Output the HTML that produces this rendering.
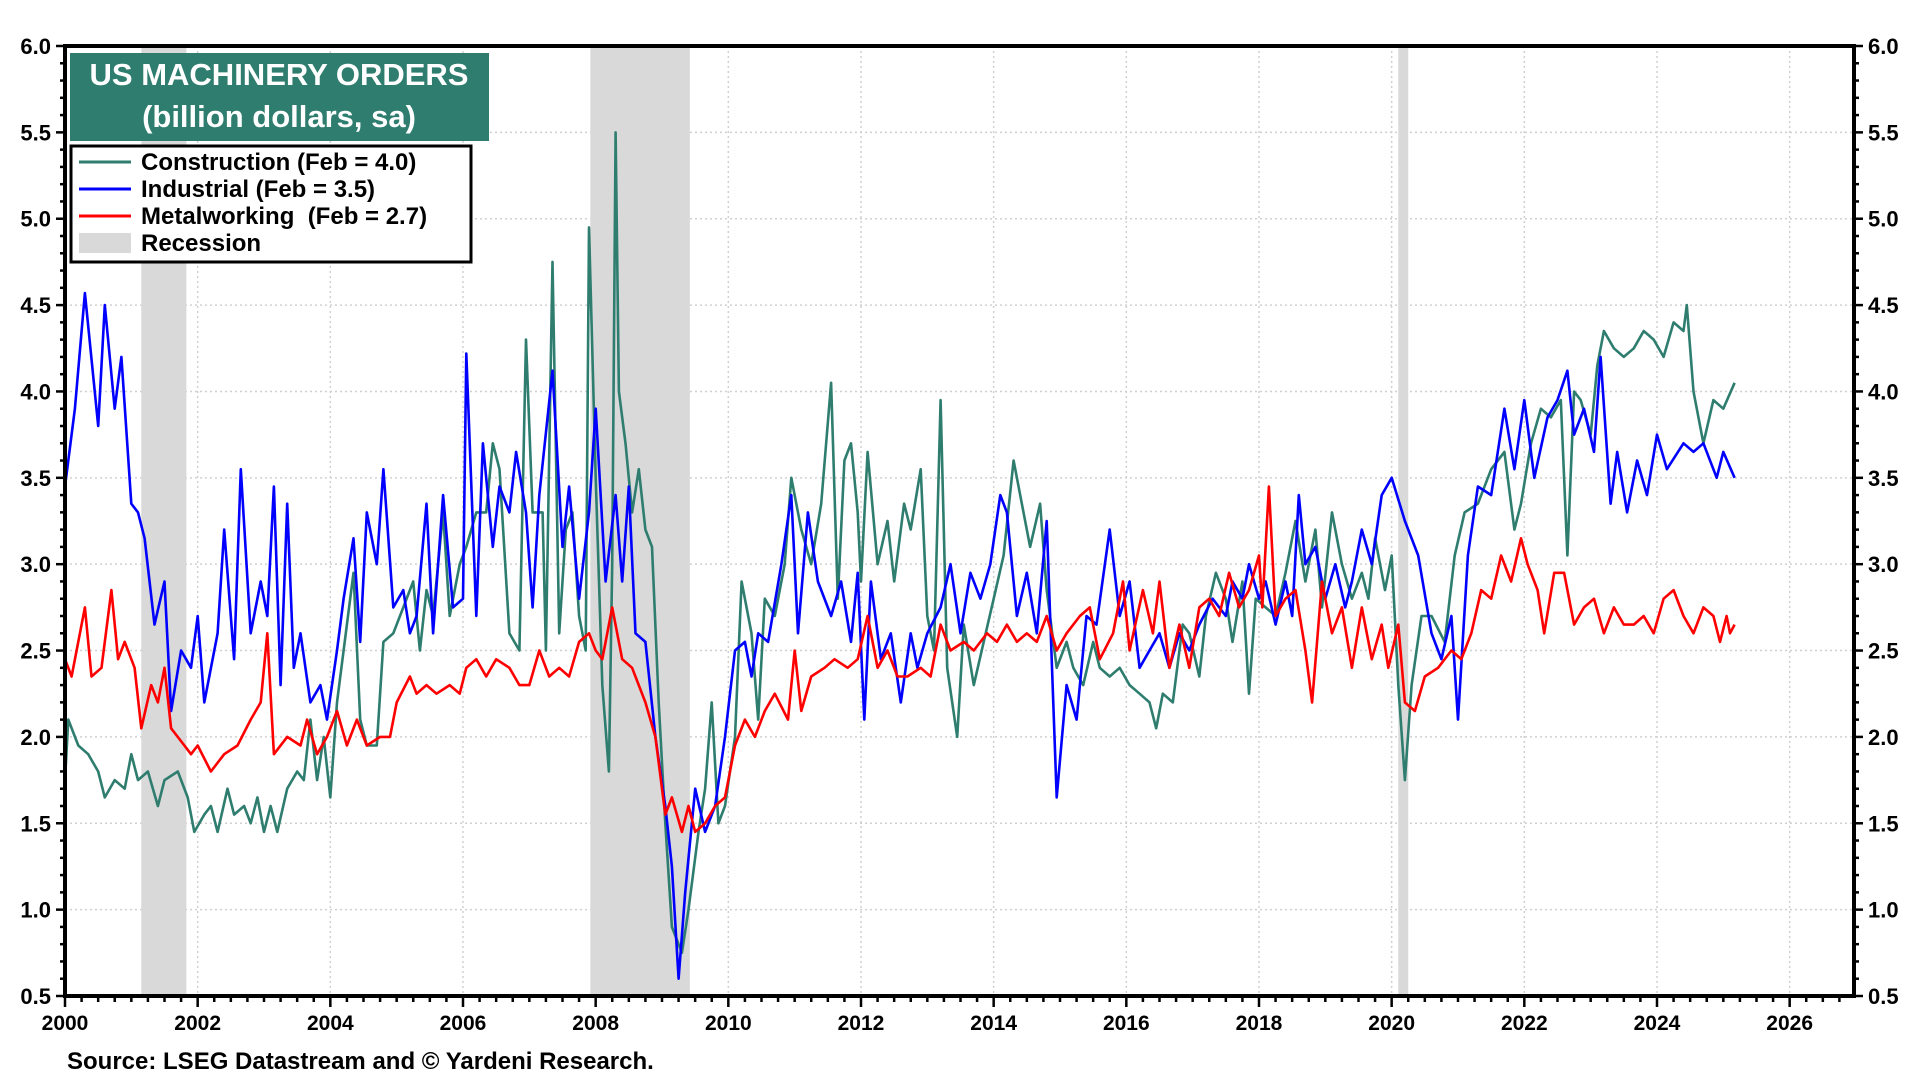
<!DOCTYPE html>
<html><head><meta charset="utf-8"><style>
html,body{margin:0;padding:0;background:#fff;}
svg{display:block;font-family:"Liberation Sans",Arial,sans-serif;}
</style></head><body>
<svg id="chart" width="1920" height="1081" viewBox="0 0 1920 1081" xmlns="http://www.w3.org/2000/svg">
<g id="grid"></g>
<g id="rec"></g>
<g id="series"></g>
<g id="axes"></g>
<g>
<rect x="70" y="53" width="419" height="88" fill="#2e7d6f"/>
<text x="279" y="85" text-anchor="middle" fill="#fff" font-size="31" font-weight="bold">US MACHINERY ORDERS</text>
<text x="279" y="127" text-anchor="middle" fill="#fff" font-size="31" font-weight="bold">(billion dollars, sa)</text>
</g>
<g>
<rect x="71" y="146" width="400" height="116" fill="#fff" stroke="#000" stroke-width="3"/>
<g><line x1="79" y1="162" x2="131" y2="162" stroke="#2e7d6f" stroke-width="3"/><text x="141" y="170" font-size="24" font-weight="bold">Construction (Feb = 4.0)</text></g>
<g><line x1="79" y1="189" x2="131" y2="189" stroke="#0000ff" stroke-width="3"/><text x="141" y="197" font-size="24" font-weight="bold">Industrial (Feb = 3.5)</text></g>
<g><line x1="79" y1="216" x2="131" y2="216" stroke="#ff0000" stroke-width="3"/><text x="141" y="224" font-size="24" font-weight="bold" xml:space="preserve">Metalworking  (Feb = 2.7)</text></g>
<g><rect x="79" y="233" width="52" height="20" fill="#d9d9d9"/><text x="141" y="251" font-size="24" font-weight="bold">Recession</text></g>
</g>
<text x="67" y="1069" font-size="24" font-weight="bold">Source: LSEG Datastream and © Yardeni Research.</text>
</svg>
<script>
const yTicks = ["0.5","1.0","1.5","2.0","2.5","3.0","3.5","4.0","4.5","5.0","5.5","6.0"];
const xTicks = ["2000","2002","2004","2006","2008","2010","2012","2014","2016","2018","2020","2022","2024","2026"];
const recessionStart = [2001.15, 2007.92, 2020.1];
const recessionEnd = [2001.83, 2009.42, 2020.25];
const indDates = [2000.0,2000.15,2000.3,2000.5,2000.6,2000.75,2000.85,2001.0,2001.1,2001.2,2001.35,2001.5,2001.6,2001.75,2001.9,2002.0,2002.1,2002.3,2002.4,2002.55,2002.65,2002.8,2002.95,2003.05,2003.15,2003.25,2003.35,2003.45,2003.55,2003.7,2003.85,2003.95,2004.1,2004.2,2004.35,2004.45,2004.55,2004.7,2004.8,2004.95,2005.1,2005.2,2005.3,2005.45,2005.55,2005.7,2005.85,2006.0,2006.05,2006.2,2006.3,2006.45,2006.55,2006.7,2006.8,2006.95,2007.05,2007.15,2007.35,2007.5,2007.6,2007.75,2007.9,2008.0,2008.15,2008.3,2008.4,2008.5,2008.6,2008.75,2008.9,2009.05,2009.15,2009.25,2009.35,2009.5,2009.65,2009.8,2009.95,2010.1,2010.25,2010.35,2010.45,2010.6,2010.8,2010.95,2011.05,2011.2,2011.35,2011.55,2011.7,2011.85,2011.95,2012.05,2012.15,2012.3,2012.45,2012.6,2012.75,2012.85,2013.0,2013.2,2013.35,2013.5,2013.65,2013.8,2013.95,2014.1,2014.2,2014.35,2014.5,2014.65,2014.8,2014.95,2015.1,2015.25,2015.4,2015.55,2015.75,2015.9,2016.05,2016.2,2016.35,2016.5,2016.65,2016.8,2016.95,2017.1,2017.3,2017.5,2017.6,2017.75,2017.85,2018.0,2018.1,2018.25,2018.4,2018.5,2018.6,2018.7,2018.85,2019.0,2019.15,2019.3,2019.4,2019.55,2019.7,2019.85,2020.0,2020.2,2020.4,2020.6,2020.75,2020.9,2021.0,2021.15,2021.3,2021.5,2021.7,2021.85,2022.0,2022.15,2022.35,2022.5,2022.65,2022.75,2022.9,2023.05,2023.15,2023.3,2023.4,2023.55,2023.7,2023.85,2024.0,2024.15,2024.4,2024.55,2024.7,2024.9,2025.0,2025.17];
const indValues = [3.45,3.9,4.57,3.8,4.5,3.9,4.2,3.35,3.3,3.15,2.65,2.9,2.15,2.5,2.4,2.7,2.2,2.6,3.2,2.45,3.55,2.6,2.9,2.7,3.45,2.3,3.35,2.4,2.6,2.2,2.3,2.1,2.5,2.8,3.15,2.55,3.3,3.0,3.55,2.75,2.85,2.6,2.7,3.35,2.6,3.4,2.75,2.8,4.22,2.7,3.7,3.1,3.45,3.3,3.65,3.3,2.75,3.4,4.12,3.1,3.45,2.8,3.3,3.9,2.9,3.4,2.9,3.45,2.6,2.55,2.0,1.6,1.25,0.6,1.1,1.7,1.45,1.6,2.0,2.5,2.55,2.35,2.6,2.55,3.0,3.4,2.6,3.3,2.9,2.7,2.9,2.55,2.95,2.1,2.9,2.45,2.6,2.2,2.6,2.4,2.6,2.75,3.0,2.6,2.95,2.8,3.0,3.4,3.3,2.7,2.95,2.6,3.25,1.65,2.3,2.1,2.7,2.65,3.2,2.7,2.9,2.4,2.5,2.6,2.4,2.6,2.5,2.65,2.8,2.7,2.9,2.8,3.0,2.8,2.9,2.65,2.9,2.7,3.4,3.0,3.1,2.8,3.0,2.75,2.9,3.2,3.0,3.4,3.5,3.25,3.05,2.6,2.45,2.7,2.1,3.05,3.45,3.4,3.9,3.55,3.95,3.5,3.85,3.95,4.12,3.75,3.9,3.65,4.2,3.35,3.65,3.3,3.6,3.4,3.75,3.55,3.7,3.65,3.7,3.5,3.65,3.5];
const conDates = [2000.0,2000.05,2000.2,2000.35,2000.5,2000.6,2000.75,2000.9,2001.0,2001.1,2001.25,2001.4,2001.5,2001.7,2001.85,2001.95,2002.1,2002.2,2002.3,2002.45,2002.55,2002.7,2002.8,2002.9,2003.0,2003.1,2003.2,2003.35,2003.5,2003.6,2003.7,2003.8,2003.9,2004.0,2004.1,2004.25,2004.35,2004.45,2004.55,2004.7,2004.8,2004.95,2005.1,2005.25,2005.35,2005.45,2005.55,2005.7,2005.8,2005.95,2006.05,2006.2,2006.35,2006.45,2006.55,2006.7,2006.85,2006.95,2007.05,2007.2,2007.25,2007.35,2007.45,2007.55,2007.65,2007.75,2007.85,2007.9,2008.0,2008.1,2008.2,2008.25,2008.3,2008.35,2008.45,2008.55,2008.65,2008.75,2008.85,2008.95,2009.05,2009.15,2009.3,2009.4,2009.55,2009.65,2009.75,2009.85,2009.95,2010.1,2010.2,2010.35,2010.45,2010.55,2010.7,2010.85,2010.95,2011.1,2011.25,2011.4,2011.55,2011.65,2011.75,2011.85,2011.95,2012.0,2012.1,2012.25,2012.4,2012.5,2012.65,2012.75,2012.9,2013.0,2013.1,2013.2,2013.3,2013.45,2013.55,2013.7,2013.85,2014.0,2014.15,2014.3,2014.4,2014.55,2014.7,2014.8,2014.95,2015.1,2015.2,2015.35,2015.5,2015.6,2015.75,2015.9,2016.05,2016.2,2016.35,2016.45,2016.55,2016.7,2016.85,2016.95,2017.1,2017.2,2017.35,2017.5,2017.6,2017.75,2017.85,2017.95,2018.1,2018.25,2018.4,2018.55,2018.7,2018.85,2018.95,2019.1,2019.25,2019.4,2019.55,2019.65,2019.75,2019.9,2020.0,2020.1,2020.2,2020.3,2020.45,2020.6,2020.8,2020.95,2021.1,2021.3,2021.5,2021.7,2021.85,2021.95,2022.1,2022.25,2022.4,2022.55,2022.65,2022.75,2022.85,2023.0,2023.1,2023.2,2023.35,2023.5,2023.65,2023.8,2023.95,2024.1,2024.25,2024.4,2024.45,2024.55,2024.7,2024.85,2025.0,2025.17];
const conValues = [1.75,2.1,1.95,1.9,1.8,1.65,1.75,1.7,1.9,1.75,1.8,1.6,1.75,1.8,1.65,1.45,1.55,1.6,1.45,1.7,1.55,1.6,1.5,1.65,1.45,1.6,1.45,1.7,1.8,1.75,2.1,1.75,2.0,1.65,2.2,2.65,2.95,2.1,1.95,1.95,2.55,2.6,2.75,2.9,2.5,2.85,2.7,3.3,2.7,3.0,3.1,3.3,3.3,3.7,3.55,2.6,2.5,4.3,3.3,3.3,2.5,4.75,2.6,3.2,3.3,2.7,2.5,4.95,3.5,2.3,1.8,3.0,5.5,4.0,3.7,3.3,3.55,3.2,3.1,2.2,1.5,0.9,0.75,1.0,1.45,1.7,2.2,1.5,1.6,2.0,2.9,2.6,2.1,2.8,2.7,3.0,3.5,3.2,3.0,3.35,4.05,2.8,3.6,3.7,3.3,2.9,3.65,3.0,3.25,2.9,3.35,3.2,3.55,2.7,2.5,3.95,2.4,2.0,2.65,2.3,2.55,2.8,3.05,3.6,3.4,3.1,3.35,2.85,2.4,2.55,2.4,2.3,2.55,2.4,2.35,2.4,2.3,2.25,2.2,2.05,2.25,2.2,2.65,2.6,2.35,2.7,2.95,2.8,2.55,2.9,2.25,2.8,2.75,2.7,2.95,3.25,2.9,3.2,2.75,3.3,3.0,2.8,2.95,2.8,3.15,2.85,3.05,2.3,1.75,2.3,2.7,2.7,2.55,3.05,3.3,3.35,3.55,3.65,3.2,3.35,3.7,3.9,3.85,3.95,3.05,4.0,3.95,3.75,4.15,4.35,4.25,4.2,4.25,4.35,4.3,4.2,4.4,4.35,4.5,4.0,3.7,3.95,3.9,4.05];
const metDates = [2000.0,2000.1,2000.3,2000.4,2000.55,2000.7,2000.8,2000.9,2001.05,2001.15,2001.3,2001.4,2001.5,2001.6,2001.8,2001.9,2002.0,2002.2,2002.4,2002.6,2002.8,2002.95,2003.05,2003.15,2003.35,2003.55,2003.65,2003.8,2003.95,2004.1,2004.25,2004.4,2004.55,2004.75,2004.9,2005.0,2005.2,2005.3,2005.45,2005.6,2005.8,2005.95,2006.05,2006.2,2006.35,2006.5,2006.7,2006.85,2007.0,2007.15,2007.3,2007.45,2007.6,2007.75,2007.9,2008.0,2008.1,2008.25,2008.4,2008.55,2008.75,2008.9,2009.05,2009.15,2009.3,2009.4,2009.5,2009.65,2009.8,2009.95,2010.1,2010.25,2010.4,2010.55,2010.7,2010.9,2011.0,2011.1,2011.25,2011.45,2011.6,2011.8,2011.95,2012.1,2012.25,2012.4,2012.55,2012.7,2012.9,2013.05,2013.2,2013.35,2013.55,2013.7,2013.9,2014.05,2014.2,2014.35,2014.5,2014.65,2014.8,2014.95,2015.1,2015.3,2015.45,2015.6,2015.8,2015.95,2016.05,2016.25,2016.4,2016.5,2016.65,2016.8,2016.95,2017.1,2017.25,2017.4,2017.55,2017.7,2017.85,2018.0,2018.05,2018.15,2018.25,2018.4,2018.55,2018.7,2018.8,2018.95,2019.1,2019.25,2019.4,2019.55,2019.7,2019.85,2019.95,2020.1,2020.2,2020.35,2020.5,2020.7,2020.9,2021.05,2021.2,2021.35,2021.5,2021.65,2021.8,2021.95,2022.05,2022.2,2022.3,2022.45,2022.6,2022.75,2022.9,2023.05,2023.2,2023.35,2023.5,2023.65,2023.8,2023.95,2024.1,2024.25,2024.4,2024.55,2024.7,2024.85,2024.95,2025.05,2025.1,2025.17];
const metValues = [2.45,2.35,2.75,2.35,2.4,2.85,2.45,2.55,2.4,2.05,2.3,2.2,2.4,2.05,1.95,1.9,1.95,1.8,1.9,1.95,2.1,2.2,2.6,1.9,2.0,1.95,2.1,1.9,2.0,2.15,1.95,2.1,1.95,2.0,2.0,2.2,2.35,2.25,2.3,2.25,2.3,2.25,2.4,2.45,2.35,2.45,2.4,2.3,2.3,2.5,2.35,2.4,2.35,2.55,2.6,2.5,2.45,2.75,2.45,2.4,2.2,2.0,1.55,1.65,1.45,1.6,1.45,1.5,1.6,1.65,1.95,2.1,2.0,2.15,2.25,2.1,2.5,2.15,2.35,2.4,2.45,2.4,2.45,2.7,2.4,2.5,2.35,2.35,2.4,2.35,2.65,2.5,2.55,2.5,2.6,2.55,2.65,2.55,2.6,2.55,2.7,2.5,2.6,2.7,2.75,2.45,2.6,2.9,2.5,2.85,2.6,2.9,2.4,2.65,2.4,2.75,2.8,2.7,2.95,2.75,2.85,3.05,2.75,3.45,2.7,2.8,2.85,2.5,2.2,2.9,2.6,2.75,2.4,2.75,2.45,2.65,2.4,2.65,2.2,2.15,2.35,2.4,2.5,2.45,2.6,2.85,2.8,3.05,2.9,3.15,3.0,2.85,2.6,2.95,2.95,2.65,2.75,2.8,2.6,2.75,2.65,2.65,2.7,2.6,2.8,2.85,2.7,2.6,2.75,2.7,2.55,2.7,2.6,2.65];

const NS = "http://www.w3.org/2000/svg";
const L = 65, R = 1854, T = 46, B = 996;
const X0 = 2000, X1 = 2026.97, Y0 = 0.5, Y1 = 6.0;
function xs(v){ return L + (v - X0) / (X1 - X0) * (R - L); }
function ys(v){ return B - (v - Y0) / (Y1 - Y0) * (B - T); }
function mk(tag, attrs, parent){ const e = document.createElementNS(NS, tag); for (const k in attrs) e.setAttribute(k, attrs[k]); parent.appendChild(e); return e; }
const grid = document.getElementById('grid'), rec = document.getElementById('rec'), ser = document.getElementById('series'), axes = document.getElementById('axes');

yTicks.forEach(t => {
  const y = ys(parseFloat(t));
  const g = mk('line', {x1:L, x2:R, y1:y, y2:y, stroke:'#d0d0d0', 'stroke-width':1.5, 'stroke-dasharray':'2,3'}, grid);
  
  
});
xTicks.forEach(t => {
  const x = xs(parseFloat(t));
  const g = mk('line', {x1:x, x2:x, y1:T, y2:B, stroke:'#d0d0d0', 'stroke-width':1.5, 'stroke-dasharray':'2,3'}, grid);
  
  
});
recessionStart.forEach((s, i) => {
  const r = mk('rect', {x:xs(s), y:T, width:xs(recessionEnd[i]) - xs(s), height:B - T, fill:'#d9d9d9'}, rec);
  
  
});
function line(d, v, color, name){
  const pts = d.map((t, i) => xs(t).toFixed(1) + ',' + ys(v[i]).toFixed(1)).join(' ');
  const p = mk('polyline', {points:pts, fill:'none', stroke:color, 'stroke-width':2.6, 'stroke-linejoin':'round'}, ser);
  
  
}
line(conDates, conValues, '#2e7d6f', 'construction-line');
line(indDates, indValues, '#0000ff', 'industrial-line');
line(metDates, metValues, '#ff0000', 'metalworking-line');

const fr = mk('rect', {x:L, y:T, width:R - L, height:B - T, fill:'none', stroke:'#000', 'stroke-width':4}, axes);


for (let k = 0; k <= 55; k++) {
  const y = ys(0.5 + k * 0.1);
  const big = k % 5 === 0;
  mk('line', {x1:L - (big ? 9 : 5), x2:L, y1:y, y2:y, stroke:'#000', 'stroke-width':2.5}, axes);
  mk('line', {x1:R, x2:R + (big ? 9 : 5), y1:y, y2:y, stroke:'#000', 'stroke-width':2.5}, axes);
}
for (let k = 0; k <= 107; k++) {
  const x = xs(2000 + k * 0.25);
  mk('line', {x1:x, x2:x, y1:B, y2:B + (k % 8 === 0 ? 11 : 6), stroke:'#000', 'stroke-width':2.5}, axes);
}
yTicks.forEach(t => {
  const y = ys(parseFloat(t)) + 8;
  const a = mk('text', {x:L - 14, y:y, 'text-anchor':'end', 'font-size':22, 'font-weight':'bold'}, axes);
  a.textContent = t;
  
  
  const b = mk('text', {x:R + 14, y:y, 'text-anchor':'start', 'font-size':22, 'font-weight':'bold'}, axes);
  b.textContent = t;
  
  
});
xTicks.forEach(t => {
  const a = mk('text', {x:xs(parseFloat(t)), y:1030, 'text-anchor':'middle', 'font-size':21, 'font-weight':'bold'}, axes);
  a.textContent = t;
  
  
});
</script>
</body></html>
